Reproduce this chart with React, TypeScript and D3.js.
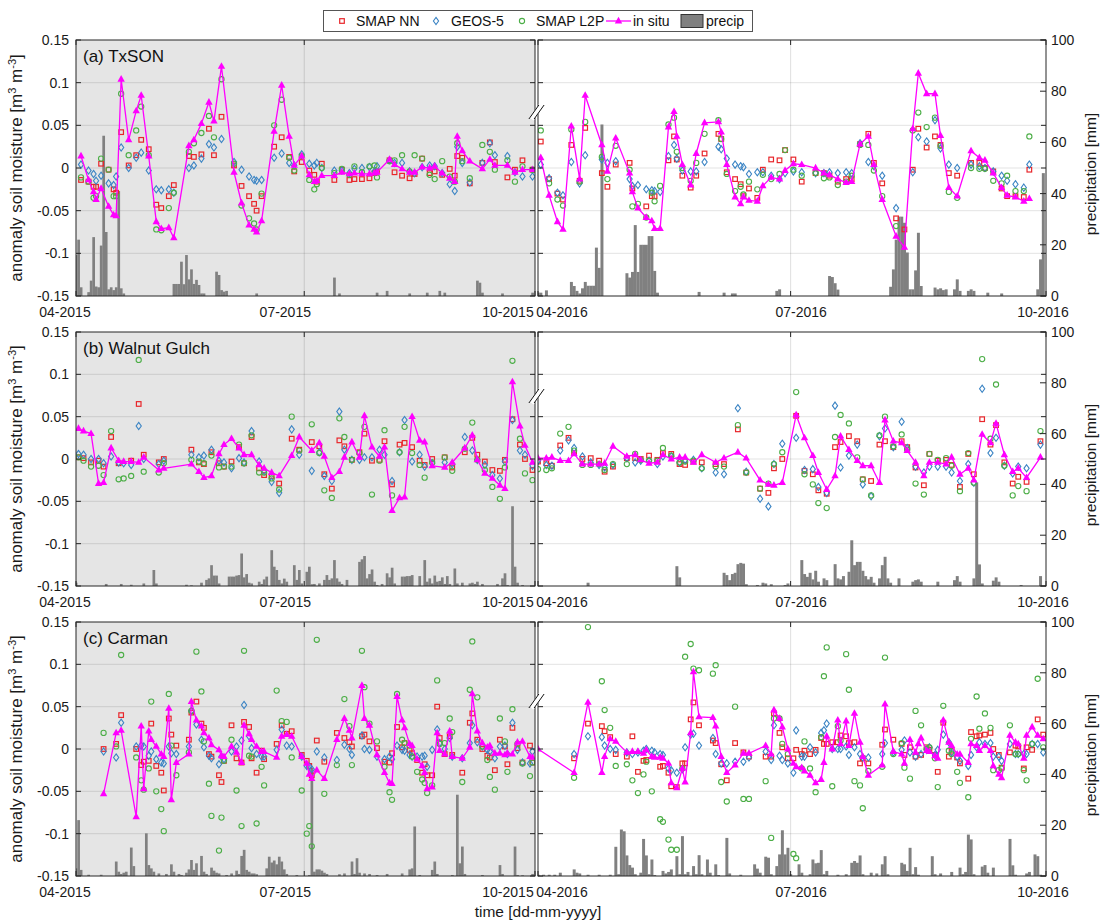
import { useEffect, useRef } from 'react';
import * as d3 from 'd3';

// rows: [day since 1 April, in situ, SMAP NN, GEOS-5, SMAP L2P]
type Obs = [number, number | null, number | null, number | null, number | null];
type Rain = [number, number];

const legendNames = ['SMAP NN', 'GEOS-5', 'SMAP L2P', 'in situ', 'precip'];
const siteLabels = ['(a) TxSON', '(b) Walnut Gulch', '(c) Carman'];
const years = [2015, 2016];
const smTicks = [-0.15, -0.1, -0.05, 0, 0.05, 0.1, 0.15];
const smTickLabels = ['-0.15', '-0.1', '-0.05', '0', '0.05', '0.1', '0.15'];
const precipTicks = [0, 20, 40, 60, 80, 100];
const monthTicks = [3, 6, 9];

const txson2015: Obs[] = [
  [2, 0.014, -0.014, 0.004, -0.011], [5, -0.014, -0.016, -0.003, -0.016], [7, -0.028, -0.022, -0.007, -0.035],
  [8, -0.037, -0.022, -0.015, -0.033], [10, -0.024, 0.005, -0.009, 0.011], [13, -0.045, -0.002, -0.018, -0.002],
  [15, -0.055, -0.025, -0.02, -0.033], [16, -0.056, -0.029, -0.01, -0.033], [18, 0.104, 0.042, 0.024, 0.087],
  [21, 0.033, 0.003, 0.0, 0.015], [24, 0.067, 0.015, 0.012, 0.044], [26, 0.085, 0.033, 0.018, 0.072],
  [29, 0.014, 0.022, -0.003, 0.015], [32, -0.063, -0.043, -0.025, -0.072], [34, -0.071, -0.047, -0.026, -0.073],
  [37, -0.07, -0.033, -0.025, -0.047], [39, -0.082, -0.02, -0.029, -0.029], [45, 0.026, 0.014, 0.0, 0.019],
  [47, 0.033, 0.013, 0.003, 0.029], [50, 0.052, 0.016, 0.011, 0.041], [53, 0.077, 0.046, 0.028, 0.061],
  [55, 0.055, 0.015, 0.024, 0.036], [58, 0.119, 0.06, 0.034, 0.104], [63, -0.005, 0.003, 0.007, 0.005],
  [66, -0.041, -0.021, -0.002, -0.044], [69, -0.067, -0.033, -0.01, -0.059], [71, -0.072, -0.042, -0.014, -0.065],
  [72, -0.075, -0.05, -0.015, -0.072], [74, -0.062, -0.033, -0.014, -0.03], [79, 0.043, 0.025, 0.012, 0.05],
  [82, 0.097, 0.036, 0.017, 0.08], [85, 0.037, 0.013, 0.006, 0.012], [87, 0.003, -0.004, 0.003, -0.003],
  [90, 0.014, 0.007, 0.016, 0.014], [93, -0.008, -0.003, 0.005, -0.014], [95, -0.016, -0.008, 0.003, -0.025],
  [96, -0.015, -0.016, 0.006, -0.019], [98, -0.009, 0.005, 0.0, 0.0], [103, -0.009, -0.014, -0.003, -0.006],
  [106, -0.005, -0.002, -0.003, -0.001], [109, -0.007, -0.014, -0.006, -0.008], [111, -0.006, -0.013, -0.001, 0.002],
  [114, -0.007, -0.013, 0.0, -0.005], [117, -0.007, -0.012, 0.001, 0.002], [119, -0.006, -0.006, -0.004, 0.003],
  [120, -0.005, -0.004, 0.002, -0.011], [125, 0.01, 0.009, 0.009, 0.008], [127, 0.004, -0.005, 0.006, 0.009],
  [130, -0.001, -0.009, 0.006, 0.015], [133, -0.005, -0.012, -0.004, -0.004], [135, -0.005, -0.007, -0.006, 0.015],
  [138, 0.001, 0.011, 0.001, 0.011], [141, 0.0, -0.006, 0.003, -0.008], [143, 0.002, -0.004, 0.002, -0.013],
  [146, -0.006, -0.008, -0.006, 0.008], [149, -0.012, -0.001, -0.019, -0.01], [151, -0.016, -0.009, -0.027, -0.016],
  [152, 0.037, 0.014, 0.025, 0.029], [154, 0.02, 0.012, 0.006, 0.008], [157, 0.008, -0.018, -0.017, -0.012],
  [162, -0.001, 0.006, 0.006, 0.027], [165, 0.01, 0.03, 0.029, 0.019], [167, 0.003, 0.007, 0.015, -0.002],
  [172, 0.003, -0.011, 0.014, 0.009], [175, -0.005, -0.002, -0.005, -0.016], [178, -0.002, 0.009, -0.01, 0.002],
  [182, -0.002, -0.002, -0.01, -0.002],
];

const txson2016: Obs[] = [
  [1, 0.012, 0.031, 0.004, 0.044], [4, -0.032, -0.013, -0.012, -0.018], [7, -0.063, -0.03, -0.029, -0.037],
  [9, -0.072, -0.037, -0.032, -0.044], [12, 0.049, 0.027, 0.007, 0.045], [15, -0.013, -0.015, -0.018, -0.016],
  [17, 0.085, 0.047, 0.015, 0.054], [23, 0.027, -0.006, 0.01, 0.013], [25, -0.004, -0.022, 0.006, -0.013],
  [28, 0.035, 0.004, 0.008, 0.026], [33, -0.006, 0.006, -0.013, -0.002], [34, -0.028, -0.024, -0.021, -0.045],
  [36, -0.047, null, -0.02, -0.042], [39, -0.058, -0.045, -0.025, -0.058], [41, -0.062, -0.033, -0.026, -0.029],
  [42, -0.071, -0.033, -0.027, -0.039], [44, -0.071, null, -0.028, -0.021], [47, 0.048, 0.009, 0.014, 0.051],
  [49, 0.066, 0.037, 0.027, 0.059], [50, 0.037, 0.01, 0.011, 0.019], [52, 0.004, -0.009, -0.003, 0.0],
  [55, -0.02, -0.023, -0.004, -0.015], [57, 0.017, -0.009, -0.004, 0.006], [60, 0.053, 0.017, 0.007, 0.04],
  [65, 0.054, 0.04, 0.025, 0.056], [66, 0.042, 0.034, 0.022, 0.034], [68, 0.004, -0.005, 0.011, -0.007],
  [71, -0.034, -0.013, 0.004, -0.027], [73, -0.042, -0.019, 0.002, -0.022], [74, -0.034, -0.033, 0.001, -0.031],
  [76, -0.038, -0.024, -0.007, -0.016], [79, -0.039, -0.035, -0.005, -0.025], [81, -0.021, -0.002, -0.005, -0.008],
  [84, -0.011, 0.01, -0.009, -0.013], [87, -0.013, 0.009, -0.013, -0.007], [89, -0.003, 0.021, -0.006, 0.021],
  [92, 0.005, 0.01, -0.004, -0.002], [95, 0.004, -0.016, -0.005, -0.009], [100, 0.0, -0.006, -0.006, -0.006],
  [103, -0.006, -0.006, -0.006, -0.012], [105, -0.008, -0.009, -0.005, -0.011], [108, -0.013, -0.016, -0.006, -0.02],
  [111, -0.017, -0.013, -0.005, -0.016], [113, -0.016, -0.013, -0.006, -0.009], [116, 0.028, 0.028, 0.029, 0.027],
  [119, 0.037, 0.04, 0.007, 0.027], [121, 0.004, 0.006, 0.002, -0.003], [124, -0.037, -0.018, -0.009, -0.033],
  [129, -0.08, -0.059, -0.047, -0.068], [132, -0.093, -0.072, null, null], [135, 0.046, -0.002, -0.005, 0.044],
  [137, 0.111, 0.046, 0.036, 0.065], [140, 0.087, 0.024, 0.031, 0.048], [143, 0.087, 0.037, 0.056, 0.059],
  [145, 0.038, 0.027, 0.023, 0.026], [148, -0.023, -0.006, 0.004, -0.028], [151, -0.033, -0.009, 0.0, -0.035],
  [156, 0.02, 0.006, 0.004, 0.0], [159, 0.012, 0.006, 0.002, -0.001], [161, 0.009, 0.0, 0.0, -0.001],
  [164, -0.006, -0.004, -0.004, -0.015], [167, -0.023, -0.024, -0.009, -0.018], [169, -0.032, -0.033, -0.015, -0.009],
  [172, -0.034, -0.033, -0.019, -0.027], [175, -0.039, -0.034, -0.023, -0.027], [177, -0.036, -0.002, 0.004, 0.037],
];

const walnut2015: Obs[] = [
  [1, 0.036, 0.002, 0.006, 0.002], [3, 0.033, 0.001, 0.005, -0.002], [6, 0.03, -0.004, 0.0, -0.009],
  [9, -0.029, -0.002, 0.0, -0.008], [11, -0.028, -0.009, -0.005, -0.019], [14, 0.013, 0.026, 0.003, 0.033],
  [17, -0.002, -0.005, -0.004, -0.024], [19, -0.003, null, -0.005, -0.023], [22, -0.003, -0.002, -0.007, -0.02],
  [25, -0.004, 0.065, 0.039, 0.117], [27, 0.002, 0.005, 0.0, -0.015], [33, -0.013, -0.004, -0.006, -0.016],
  [35, -0.011, 0.0, -0.002, -0.005], [46, -0.006, 0.011, 0.005, -0.001], [49, -0.015, -0.004, 0.002, -0.003],
  [51, -0.022, -0.006, 0.004, -0.005], [54, -0.02, 0.008, 0.011, 0.004], [57, 0.006, -0.005, -0.002, -0.01],
  [59, 0.017, -0.009, -0.004, -0.009], [62, 0.024, -0.003, -0.011, -0.009], [65, 0.013, 0.014, 0.001, 0.017],
  [67, 0.005, -0.005, -0.004, -0.005], [70, 0.005, 0.026, 0.033, 0.028], [73, -0.007, -0.011, -0.003, -0.016],
  [75, -0.011, -0.019, -0.014, -0.016], [78, -0.016, -0.02, -0.027, -0.023], [81, -0.02, -0.029, -0.04, -0.036],
  [86, 0.004, 0.024, 0.035, 0.05], [89, 0.026, 0.011, 0.005, 0.01], [94, 0.01, 0.02, -0.014, 0.041],
  [97, 0.019, 0.015, 0.008, 0.007], [99, 0.003, -0.018, -0.02, -0.037], [102, -0.022, -0.035, -0.026, -0.046],
  [105, -0.015, 0.022, 0.056, 0.048], [107, 0.002, 0.015, 0.011, 0.026], [110, 0.02, -0.001, -0.001, -0.001],
  [113, 0.002, 0.008, -0.001, 0.007], [115, 0.051, 0.03, 0.002, 0.038], [118, 0.014, -0.002, 0.002, -0.042],
  [121, 0.003, -0.001, 0.011, -0.002], [123, 0.014, 0.021, 0.005, 0.034], [126, -0.061, -0.03, -0.026, -0.043],
  [129, -0.046, 0.017, 0.008, 0.008], [131, -0.045, 0.019, 0.046, 0.038], [134, 0.05, 0.014, -0.003, 0.007],
  [137, 0.022, -0.002, 0.005, -0.007], [139, 0.02, -0.007, -0.009, -0.022], [142, -0.008, 0.0, -0.005, -0.004],
  [147, -0.01, 0.002, -0.004, 0.002], [150, -0.004, -0.01, -0.006, -0.014], [155, 0.013, 0.008, 0.026, 0.012],
  [158, 0.028, 0.025, 0.01, 0.043], [160, -0.001, 0.005, -0.001, -0.001], [163, -0.017, -0.003, -0.007, -0.013],
  [166, -0.023, -0.013, -0.019, -0.033], [169, -0.031, -0.014, -0.023, -0.047], [171, -0.035, -0.001, -0.003, -0.01],
  [174, 0.091, 0.047, 0.046, 0.116], [177, 0.039, 0.017, 0.01, 0.024], [179, 0.016, 0.0, 0.005, -0.017],
  [182, -0.004, -0.013, -0.008, -0.025],
];

const walnut2016: Obs[] = [
  [0, 0.001, -0.003, -0.002, -0.012], [3, 0.001, -0.005, -0.007, -0.013], [5, 0.002, -0.008, -0.008, -0.011],
  [8, -0.002, 0.016, 0.01, 0.03], [11, -0.002, 0.025, 0.022, 0.038], [13, 0.006, 0.007, 0.013, 0.01],
  [16, -0.006, 0.0, 0.003, -0.007], [19, -0.006, 0.001, -0.004, -0.007], [22, -0.006, -0.002, -0.007, -0.006],
  [24, -0.005, -0.015, -0.01, -0.013], [27, 0.015, -0.009, -0.007, -0.006], [32, 0.003, 0.001, 0.001, -0.006],
  [35, 0.005, 0.001, -0.004, 0.006], [37, -0.001, 0.0, -0.002, -0.001], [40, -0.005, 0.004, -0.002, -0.002],
  [43, -0.004, -0.001, -0.006, -0.002], [45, 0.005, 0.007, 0.003, 0.013], [48, 0.0, 0.006, 0.003, 0.004],
  [51, 0.002, -0.006, -0.004, -0.004], [53, 0.002, -0.007, -0.001, -0.003], [56, -0.004, -0.003, -0.001, -0.002],
  [59, 0.005, -0.004, -0.011, -0.011], [64, -0.004, -0.006, -0.016, -0.009], [67, 0.001, -0.006, -0.018, -0.009],
  [72, 0.008, 0.035, 0.06, 0.04], [75, 0.001, -0.016, -0.015, -0.016], [80, -0.025, -0.035, -0.047, -0.035],
  [83, -0.03, -0.04, -0.056, -0.029], [85, -0.031, -0.011, -0.006, -0.006], [88, -0.028, 0.0, 0.018, 0.008],
  [93, 0.052, 0.051, 0.025, 0.079], [96, 0.025, -0.014, -0.013, -0.018], [99, 0.004, -0.018, -0.012, -0.03],
  [101, -0.016, -0.037, -0.033, -0.052], [104, -0.036, -0.041, -0.04, -0.058], [107, -0.02, 0.014, 0.063, 0.026],
  [109, 0.027, 0.02, -0.01, 0.052], [112, 0.011, 0.027, 0.004, 0.042], [115, -0.002, 0.021, 0.017, 0.002],
  [117, -0.008, -0.024, -0.03, -0.024], [120, -0.008, -0.026, -0.044, -0.043], [123, -0.028, 0.017, 0.027, 0.028],
  [125, 0.046, 0.021, 0.036, 0.05], [128, 0.021, 0.014, 0.014, 0.015], [131, 0.019, 0.021, 0.044, 0.029],
  [133, 0.01, 0.014, 0.013, 0.011], [136, -0.004, -0.01, -0.009, -0.029], [139, -0.02, -0.031, -0.016, -0.042],
  [141, -0.004, 0.006, -0.009, 0.006], [144, -0.004, -0.002, -0.009, -0.001], [147, -0.006, -0.001, -0.009, 0.001],
  [149, 0.002, -0.007, -0.016, -0.008], [152, -0.018, -0.033, -0.026, -0.038], [155, -0.011, 0.006, -0.006, 0.007],
  [157, -0.025, -0.018, -0.028, -0.028], [160, 0.029, 0.047, 0.083, 0.118], [163, 0.019, 0.017, 0.007, 0.024],
  [165, 0.042, 0.04, 0.025, 0.088], [168, 0.005, -0.004, -0.008, -0.008], [171, -0.015, -0.029, -0.017, -0.043],
  [173, -0.011, -0.021, -0.009, -0.032], [176, -0.022, -0.027, -0.011, -0.038], [181, 0.002, 0.021, 0.017, 0.033],
];

const carman2015: Obs[] = [
  [11, -0.053, 0.0, -0.003, 0.019], [16, 0.019, 0.006, -0.01, 0.003], [18, 0.022, 0.04, 0.031, 0.111],
  [24, -0.08, 0.0, 0.003, -0.01], [26, 0.027, -0.019, 0.004, -0.037], [27, -0.047, -0.015, 0.003, -0.048],
  [29, 0.021, -0.014, -0.008, -0.023], [30, 0.011, 0.03, -0.003, 0.056], [32, 0.003, -0.02, -0.012, -0.05],
  [34, -0.006, -0.028, -0.016, -0.071], [35, -0.009, -0.049, -0.017, -0.097], [37, 0.048, 0.036, 0.003, 0.065],
  [38, -0.06, 0.017, -0.005, 0.004], [40, -0.016, 0.004, -0.006, -0.031], [45, -0.006, 0.011, 0.003, -0.004],
  [46, 0.056, 0.043, 0.045, 0.045], [48, 0.034, 0.056, 0.029, 0.115], [50, 0.027, 0.03, 0.011, 0.068],
  [51, 0.019, 0.025, 0.002, 0.009], [53, 0.013, -0.006, -0.008, -0.041], [54, 0.005, -0.009, -0.011, -0.079],
  [57, -0.001, -0.031, -0.018, -0.12], [58, -0.008, -0.039, -0.009, -0.081], [59, -0.009, -0.014, -0.012, -0.014],
  [62, 0.003, 0.028, -0.003, 0.011], [64, -0.004, -0.011, 0.003, -0.049], [66, -0.016, -0.016, 0.01, -0.091],
  [67, 0.028, 0.032, 0.052, 0.116], [69, 0.018, 0.026, 0.015, -0.008], [70, 0.011, -0.011, 0.001, -0.009],
  [72, 0.003, -0.028, -0.006, -0.088], [74, -0.003, -0.002, -0.009, -0.021], [75, -0.003, -0.012, -0.009, -0.043],
  [80, -0.01, 0.006, -0.001, 0.069], [82, 0.015, 0.028, 0.023, 0.033], [84, 0.017, 0.018, 0.004, 0.032],
  [86, 0.015, 0.021, 0.003, -0.01], [90, -0.009, -0.007, -0.009, -0.049], [92, -0.017, -0.014, -0.02, -0.1],
  [93, -0.03, -0.02, -0.021, -0.091], [94, -0.035, -0.031, -0.024, -0.115], [96, -0.025, 0.01, -0.003, 0.129],
  [99, -0.035, -0.015, -0.01, -0.053], [104, 0.011, 0.019, -0.013, -0.019], [107, 0.036, 0.013, 0.005, 0.059],
  [109, 0.022, 0.008, 0.0, 0.027], [110, 0.013, 0.003, -0.007, -0.019], [114, 0.075, 0.015, 0.016, 0.116],
  [115, 0.036, 0.017, 0.0, 0.073], [117, 0.028, 0.009, -0.001, 0.03], [120, -0.007, 0.001, -0.009, 0.009],
  [123, -0.028, -0.015, -0.012, -0.021], [125, -0.04, -0.016, -0.009, -0.051], [126, -0.041, -0.005, -0.012, -0.06],
  [128, 0.062, 0.026, 0.004, 0.065], [130, 0.034, 0.002, -0.001, 0.011], [131, 0.025, 0.007, -0.002, 0.007],
  [133, 0.006, -0.001, -0.007, 0.004], [134, 0.004, -0.005, -0.009, -0.009], [136, -0.012, -0.013, -0.009, -0.027],
  [138, -0.02, -0.028, -0.009, -0.036], [139, -0.028, -0.018, -0.008, -0.04], [140, -0.047, -0.031, -0.021, -0.052],
  [142, -0.045, -0.031, -0.001, -0.043], [144, 0.019, 0.05, 0.023, 0.081], [145, -0.002, 0.013, 0.007, 0.006],
  [147, -0.006, -0.006, 0.0, 0.007], [149, 0.021, 0.015, 0.013, 0.036], [150, -0.009, -0.007, -0.009, 0.02],
  [154, -0.011, -0.028, -0.011, -0.039], [157, 0.002, 0.031, 0.007, 0.07], [158, 0.065, 0.042, 0.028, 0.127],
  [160, 0.021, 0.011, 0.008, 0.061], [162, 0.007, 0.0, 0.003, 0.003], [164, 0.002, -0.008, -0.001, -0.013],
  [165, 0.004, -0.01, -0.003, -0.033], [167, -0.005, -0.025, -0.011, -0.048], [169, -0.005, 0.011, 0.003, 0.036],
  [171, -0.007, 0.003, 0.004, 0.009], [172, -0.005, -0.018, -0.006, -0.027], [174, -0.006, 0.025, 0.031, 0.047],
  [176, 0.008, 0.001, -0.001, 0.006], [178, 0.009, -0.016, -0.016, -0.017], [181, -0.009, 0.004, -0.017, -0.032],
  [182, -0.01, -0.016, -0.003, -0.016],
];

const carman2016: Obs[] = [
  [0, 0.0, null, null, null], [13, -0.028, -0.011, -0.006, -0.034], [18, 0.055, 0.03, 0.015, 0.144],
  [23, -0.028, 0.027, 0.014, 0.08], [24, -0.009, 0.021, 0.004, 0.046], [26, 0.012, 0.014, 0.0, 0.025],
  [28, 0.009, -0.006, -0.001, -0.02], [32, -0.004, -0.009, -0.004, -0.018], [34, -0.003, 0.015, -0.006, -0.037],
  [36, -0.003, -0.027, -0.004, -0.052], [38, -0.005, -0.014, -0.002, -0.03], [39, -0.001, -0.013, 0.0, -0.015],
  [41, -0.009, null, -0.002, -0.05], [42, -0.01, null, -0.004, null], [44, -0.01, -0.021, -0.006, -0.083],
  [45, -0.011, -0.02, -0.007, -0.086], [47, -0.017, -0.028, -0.023, -0.107], [48, -0.04, -0.044, -0.025, -0.119],
  [50, -0.046, -0.045, -0.028, -0.119], [52, -0.023, -0.017, -0.024, -0.023], [53, -0.039, -0.017, 0.002, 0.109],
  [55, 0.019, 0.035, 0.017, 0.124], [56, 0.091, 0.055, 0.018, 0.095], [58, 0.038, 0.028, 0.004, 0.093],
  [63, 0.037, 0.01, 0.013, 0.089], [64, 0.027, 0.007, -0.006, 0.099], [66, -0.009, -0.018, -0.017, -0.039],
  [68, -0.028, -0.037, -0.017, -0.062], [71, -0.019, 0.007, -0.015, 0.05], [74, -0.005, -0.004, -0.015, -0.059],
  [76, -0.005, -0.009, -0.01, -0.059], [82, 0.004, -0.009, -0.003, -0.038], [84, -0.006, -0.009, -0.013, -0.105],
  [85, 0.046, 0.042, 0.028, 0.036], [87, 0.036, 0.019, -0.008, 0.036], [88, 0.026, 0.002, -0.013, 0.006],
  [90, 0.0, -0.011, -0.017, -0.006], [92, -0.017, -0.011, -0.028, -0.124], [93, -0.021, -0.001, 0.022, -0.129],
  [95, -0.022, -0.006, -0.009, -0.023], [96, -0.026, -0.002, -0.009, 0.009], [98, -0.031, -0.006, 0.002, -0.023],
  [100, -0.04, -0.001, -0.004, -0.051], [102, -0.036, 0.013, 0.019, 0.014], [103, -0.016, 0.006, 0.022, 0.086],
  [104, 0.015, 0.006, 0.03, 0.12], [106, 0.0, 0.008, 0.0, -0.044], [108, 0.034, 0.008, 0.0, 0.027],
  [109, 0.006, 0.016, 0.0, 0.01], [111, 0.033, 0.015, 0.003, 0.112], [112, 0.004, 0.007, -0.007, 0.07],
  [114, 0.042, 0.008, 0.002, -0.038], [116, 0.008, -0.017, -0.006, -0.043], [117, -0.009, -0.011, -0.01, -0.07],
  [119, -0.031, -0.017, -0.01, -0.026], [124, -0.019, 0.005, -0.006, -0.021], [125, 0.053, 0.023, 0.007, 0.108],
  [128, -0.003, 0.011, -0.004, -0.006], [131, -0.006, 0.006, -0.001, 0.007], [132, -0.017, -0.007, 0.01, -0.022],
  [134, 0.011, 0.002, -0.004, -0.035], [136, -0.004, -0.009, -0.009, 0.045], [137, 0.006, null, null, null],
  [138, 0.013, -0.007, -0.006, 0.028], [140, -0.002, 0.002, -0.001, 0.0], [141, -0.003, -0.001, 0.002, 0.002],
  [143, -0.008, -0.007, -0.007, -0.011], [144, -0.011, -0.027, -0.001, -0.045], [146, 0.034, 0.031, 0.017, 0.051],
  [148, 0.008, -0.009, 0.008, -0.002], [149, 0.004, -0.002, -0.004, -0.006], [151, -0.006, -0.01, -0.009, -0.027],
  [152, -0.006, -0.017, -0.014, -0.04], [155, -0.016, -0.035, -0.02, -0.057], [156, 0.006, 0.02, -0.007, 0.012],
  [158, 0.004, 0.015, 0.002, 0.062], [159, -0.002, 0.016, 0.008, 0.024], [161, 0.004, 0.017, 0.006, 0.042],
  [163, -0.002, 0.019, 0.007, 0.025], [164, -0.02, 0.0, -0.009, -0.025], [166, -0.03, -0.007, -0.009, -0.025],
  [167, -0.034, -0.022, -0.014, -0.023], [170, 0.016, -0.004, 0.006, 0.028], [172, 0.008, 0.004, -0.006, -0.006],
  [173, 0.006, 0.003, -0.006, -0.006], [175, -0.011, -0.023, -0.006, -0.025], [176, 0.016, 0.002, -0.006, -0.037],
  [178, 0.026, -0.001, 0.006, 0.006], [180, 0.016, 0.035, 0.006, 0.083], [182, 0.012, 0.017, -0.004, 0.002],
];

// daily precipitation [day since 1 April, mm]
const txsonRain2015: Rain[] = [
  [0, 16], [1, 22], [2, 3.4], [5, 1.5], [6, 6], [7, 23], [8, 3.7], [9, 3.4], [10, 19.7], [11, 62.6], [12, 25],
  [13, 2.6], [14, 3.4], [15, 2.3], [16, 3.4], [17, 41], [18, 3], [19, 1], [39, 4.7], [40, 4.7], [41, 4.7],
  [42, 13.4], [43, 4.6], [44, 16], [45, 6.5], [46, 10.4], [47, 4.7], [48, 6.3], [49, 4.3], [50, 1], [51, 1],
  [56, 9.5], [57, 8.2], [58, 2.3], [59, 1.7], [60, 2], [72, 1], [103, 7.2], [105, 1], [120, 1.3], [124, 2],
  [133, 1], [140, 1.3], [145, 2], [147, 1.3], [160, 6], [161, 5.2], [162, 1.3], [170, 1], [182, 1.3],
];
const txsonRain2016: Rain[] = [
  [0, 1.3], [1, 1.3], [3, 2.2], [12, 5.5], [13, 3.9], [14, 2], [15, 1], [16, 3], [17, 5.5], [18, 4], [19, 4],
  [20, 4], [21, 18.9], [22, 11], [23, 67], [32, 8.9], [33, 7.2], [34, 9.4], [35, 27.7], [36, 9.4], [37, 20],
  [38, 20], [39, 20], [40, 23.4], [41, 23.4], [42, 9.8], [43, 1.3], [58, 1.6], [67, 1.3], [70, 1], [71, 1],
  [86, 2], [87, 2.6], [105, 7.8], [106, 7.4], [107, 5], [108, 2.5], [127, 3.6], [128, 10.4], [129, 22],
  [130, 31], [131, 31], [132, 28.6], [133, 17], [134, 2.6], [135, 2.6], [136, 10], [137, 24.7], [138, 3.9],
  [143, 3.3], [144, 2.6], [145, 3], [146, 2.3], [147, 2.6], [150, 2.6], [151, 6.5], [152, 2], [155, 2],
  [156, 2.6], [157, 2], [162, 1.3], [167, 1], [180, 2.6], [181, 14.3], [182, 48],
];
const walnutRain2015: Rain[] = [
  [0, 1.3], [12, 0.8], [18, 0.8], [22, 0.5], [27, 1], [31, 6.3], [32, 1], [44, 0.5], [46, 0.3], [50, 1.3],
  [52, 2.4], [53, 3], [54, 8.2], [55, 4.1], [56, 4.1], [57, 1], [61, 3.7], [62, 3.7], [63, 3.7], [64, 4.1],
  [65, 4.3], [66, 12.8], [67, 3.4], [68, 4.7], [69, 1.3], [70, 1], [73, 1.7], [74, 0.8], [75, 2.6], [76, 3.7],
  [78, 14.1], [79, 7.6], [80, 6.3], [81, 2.4], [82, 1], [83, 2.9], [84, 1.7], [87, 8.2], [88, 2.4], [89, 6.3],
  [90, 1], [92, 5.6], [93, 7.6], [94, 0.7], [95, 0.8], [97, 1], [99, 2.4], [100, 4.3], [101, 2.4], [102, 3],
  [103, 10.2], [104, 3], [105, 1.7], [106, 0.8], [108, 2.4], [113, 9.5], [114, 10.5], [115, 11.8], [116, 3],
  [117, 4.7], [118, 6.5], [119, 1.7], [120, 0.4], [122, 0.8], [124, 5], [125, 3.4], [126, 7.2], [127, 1],
  [130, 3.7], [131, 3.7], [132, 3.9], [133, 3.9], [134, 4.3], [137, 3.9], [139, 10.2], [140, 1.7], [141, 3],
  [142, 1], [143, 4.1], [144, 1.7], [145, 2], [146, 3.4], [147, 0.8], [148, 3.9], [149, 0.8], [151, 6.9],
  [152, 1], [154, 1.3], [157, 1], [158, 1.3], [159, 0.8], [160, 1.7], [162, 0.8], [168, 0.8], [170, 3], [171, 5],
  [172, 0.4], [174, 31.4], [175, 7.6], [176, 1.3], [178, 0.4],
];
const walnutRain2016: Rain[] = [
  [18, 1.3], [50, 7.8], [51, 3.4], [67, 5.2], [68, 4.3], [69, 2.3], [70, 4.7], [71, 5.2], [72, 8.6], [73, 9.1],
  [74, 8.8], [75, 0.7], [79, 0.4], [81, 1.3], [82, 1], [84, 0.7], [89, 0.4], [90, 1], [95, 10.2], [96, 4.7],
  [97, 3.6], [98, 5.2], [99, 2.6], [100, 6], [101, 1.7], [103, 3], [104, 2.3], [107, 8.6], [108, 3], [109, 2.6],
  [110, 3.9], [112, 5.6], [113, 18], [114, 8.2], [115, 9.5], [116, 9.5], [117, 6], [118, 3.9], [119, 2.6],
  [120, 3.6], [121, 1.3], [123, 3], [124, 8.2], [125, 11.5], [126, 3], [127, 1.3], [130, 3], [135, 1.7],
  [136, 2.3], [137, 2.6], [138, 1.7], [144, 1.7], [150, 2.3], [151, 3.9], [152, 1.7], [157, 3], [158, 40.8],
  [159, 8.5], [160, 1], [164, 2.1], [165, 3.4], [166, 1.7], [174, 0.4], [181, 3.9],
];
const carmanRain2015: Rain[] = [
  [0, 3], [1, 22], [2, 2.4], [5, 0.5], [10, 0.5], [16, 5.7], [17, 1.7], [18, 0.8], [19, 1.3], [20, 1.7],
  [22, 11.2], [23, 3.9], [28, 16.8], [29, 4.3], [30, 3], [31, 1.7], [33, 1], [36, 0.8], [38, 4.6], [39, 1.7],
  [41, 0.8], [42, 0.4], [44, 1.3], [45, 2.6], [46, 6.3], [47, 2.4], [48, 5], [50, 7.9], [51, 1.7], [52, 0.8],
  [54, 3.3], [55, 2.1], [56, 1.3], [57, 1], [60, 0.4], [62, 1], [64, 2.1], [65, 0.8], [66, 7.9], [67, 10.3],
  [68, 2.4], [69, 1.7], [70, 1], [71, 1], [72, 0.7], [76, 3], [77, 7.6], [78, 5.3], [79, 6.1], [80, 4.6],
  [81, 7.6], [82, 5.7], [83, 2.6], [84, 0.8], [88, 0.4], [93, 0.4], [94, 42.5], [95, 1.7], [96, 2.6], [97, 2.6],
  [98, 2.1], [99, 1.3], [100, 0.8], [105, 0.7], [107, 1], [110, 5.7], [111, 0.8], [112, 7], [113, 1.3],
  [115, 1], [117, 0.8], [120, 0.4], [124, 0.8], [130, 1], [133, 2.6], [134, 3], [135, 19.5], [137, 0.4],
  [142, 2.4], [143, 5.7], [144, 0.8], [150, 0.4], [152, 32], [153, 5], [154, 11.6], [155, 0.8], [162, 0.4],
  [169, 4.3], [170, 0.8], [175, 11.6], [176, 0.4], [178, 0.3], [182, 0.8],
];
const carmanRain2016: Rain[] = [
  [0, 0.5], [2, 0.5], [4, 0.5], [6, 0.5], [8, 1.3], [13, 2.6], [14, 1.3], [15, 1], [18, 0.5], [22, 0.5],
  [26, 0.5], [28, 11.5], [29, 0.7], [30, 18.3], [31, 17.6], [32, 8.1], [33, 4.3], [34, 3.3], [35, 0.7],
  [37, 1.3], [38, 14.6], [39, 8.1], [40, 0.7], [41, 6.5], [42, 0.4], [45, 2], [46, 1], [47, 1.6], [48, 2.6],
  [50, 7.8], [51, 0.7], [52, 15.7], [53, 0.7], [54, 1.6], [56, 3.9], [57, 0.7], [58, 8.2], [59, 0.7], [61, 6.5],
  [62, 1.3], [64, 4.6], [65, 0.4], [68, 15], [69, 1], [73, 0.5], [78, 4.6], [79, 2.9], [80, 1.3], [82, 7.6],
  [83, 7.2], [84, 0.7], [86, 3.9], [87, 8.5], [88, 18], [89, 8.5], [90, 11.1], [91, 0.7], [94, 4.6], [95, 1.3],
  [98, 0.7], [99, 6.5], [100, 5], [101, 5.2], [102, 10.2], [103, 0.7], [104, 2], [108, 0.5], [111, 0.7],
  [113, 5.2], [114, 5.9], [115, 5.2], [116, 8.1], [117, 0.7], [120, 1.3], [122, 1], [124, 4.6], [125, 7.8],
  [126, 0.7], [131, 5.2], [132, 4.6], [133, 2], [134, 11.1], [135, 0.7], [136, 3.5], [137, 0.5], [142, 7.8],
  [143, 0.7], [145, 1], [149, 1.6], [152, 3.3], [153, 0.7], [154, 1.6], [155, 16.3], [156, 14.4], [157, 0.7],
  [160, 3.7], [161, 4.3], [162, 1.3], [164, 3.3], [170, 14.6], [171, 4.2], [172, 0.5], [176, 1], [177, 1.6],
  [179, 8.5], [180, 7.8], [181, 0.5],
];

const obsBySite = [[txson2015, txson2016], [walnut2015, walnut2016], [carman2015, carman2016]];
const rainBySite = [[txsonRain2015, txsonRain2016], [walnutRain2015, walnutRain2016], [carmanRain2015, carmanRain2016]];

const C = { nn: '#e8262b', geos: '#3b84c4', l2p: '#4cae47', insitu: '#ff00ff', rain: '#808080', frame: '#262626' };
const FONT = '"Liberation Sans", Arial, Helvetica, sans-serif';

// layout
const panelTop = [40, 332, 622];
const panelBottom = [296, 586, 876];
const halfX = [[76, 535], [538, 1046]];
const labelX = [[65, 508], [562, 1043]];
const breakY = [112, 396, 701];

export default function App() {
  const svgRef = useRef<SVGSVGElement>(null);

  useEffect(() => {
    const svg = d3.select(svgRef.current);
    svg.selectAll('*').remove();
    svg.style('font-family', FONT);
    const defs = svg.append('defs');
    const fmt = d3.timeFormat('%m-%Y');
    const triangle = 'M0,-4.2L3.7,2.4L-3.7,2.4Z';
    const diamond = 'M0,-3.6L2.6,0L0,3.6L-2.6,0Z';

    siteLabels.forEach((site, p) => {
      const top = panelTop[p], bottom = panelBottom[p];
      const y = d3.scaleLinear().domain([-0.15, 0.15]).range([bottom, top]);
      const yp = d3.scaleLinear().domain([0, 100]).range([bottom, top]);

      years.forEach((yr, h) => {
        const start = new Date(yr, 3, 1), end = new Date(yr, 9, 1);
        const x = d3.scaleTime().domain([start, end]).range(halfX[h]);
        const xl = d3.scaleTime().domain([start, end]).range(labelX[h]);
        const date = (d: number) => new Date(yr, 3, 1 + d);
        const [x0, x1] = halfX[h];
        const dayW = x(date(1)) - x(date(0));
        const clipId = `clip-${p}-${h}`;
        defs.append('clipPath').attr('id', clipId)
          .append('rect').attr('x', x0).attr('y', top).attr('width', x1 - x0).attr('height', bottom - top);

        const g = svg.append('g');
        g.append('rect').attr('x', x0).attr('y', top).attr('width', x1 - x0).attr('height', bottom - top)
          .attr('fill', h === 0 ? '#e5e5e5' : '#ffffff');

        // grid
        g.selectAll('.hg').data(smTicks.slice(1, -1)).enter().append('line')
          .attr('x1', x0).attr('x2', x1).attr('y1', d => y(d)).attr('y2', d => y(d))
          .attr('stroke', '#262626').attr('stroke-opacity', 0.13);
        g.append('line').attr('x1', x(new Date(yr, 6, 1))).attr('x2', x(new Date(yr, 6, 1)))
          .attr('y1', top).attr('y2', bottom).attr('stroke', '#262626').attr('stroke-opacity', 0.15);

        const inner = g.append('g').attr('clip-path', `url(#${clipId})`);

        // precipitation bars
        inner.selectAll('.bar').data(rainBySite[p][h]).enter().append('rect')
          .attr('x', d => x(date(d[0])) - dayW / 2).attr('width', dayW + 0.2)
          .attr('y', d => yp(d[1])).attr('height', d => bottom - yp(d[1]))
          .attr('fill', C.rain);

        const obs = obsBySite[p][h];
        const pts = (k: number) => obs.filter(r => r[k] != null);

        inner.selectAll('.nn').data(pts(2)).enter().append('rect')
          .attr('x', d => x(date(d[0])) - 2.3).attr('y', d => y(d[2] as number) - 2.3)
          .attr('width', 4.6).attr('height', 4.6)
          .attr('fill', 'none').attr('stroke', C.nn).attr('stroke-width', 1.2);

        inner.selectAll('.geos').data(pts(3)).enter().append('path')
          .attr('d', diamond)
          .attr('transform', d => `translate(${x(date(d[0]))},${y(d[3] as number)})`)
          .attr('fill', 'none').attr('stroke', C.geos).attr('stroke-width', 1.1);

        inner.selectAll('.l2p').data(pts(4)).enter().append('circle')
          .attr('cx', d => x(date(d[0]))).attr('cy', d => y(d[4] as number)).attr('r', 2.6)
          .attr('fill', 'none').attr('stroke', C.l2p).attr('stroke-width', 1.1);

        const situ = pts(1);
        const line = d3.line<Obs>().x(d => x(date(d[0]))).y(d => y(d[1] as number));
        inner.append('path').datum(situ).attr('d', line)
          .attr('fill', 'none').attr('stroke', C.insitu).attr('stroke-width', 1.3);
        inner.selectAll('.tri').data(situ).enter().append('path')
          .attr('d', triangle)
          .attr('transform', d => `translate(${x(date(d[0]))},${y(d[1] as number)})`)
          .attr('fill', C.insitu);

        // ticks
        const tk = g.append('g').attr('stroke', C.frame).attr('stroke-width', 1);
        smTicks.forEach(t => {
          tk.append('line').attr('x1', x0).attr('x2', x0 + 5).attr('y1', y(t)).attr('y2', y(t));
          tk.append('line').attr('x1', x1).attr('x2', x1 - 5).attr('y1', y(t)).attr('y2', y(t));
        });
        monthTicks.forEach(m => {
          const xm = x(new Date(yr, m, 1));
          tk.append('line').attr('x1', xm).attr('x2', xm).attr('y1', top).attr('y2', top + 5);
          tk.append('line').attr('x1', xm).attr('x2', xm).attr('y1', bottom).attr('y2', bottom - 5);
        });
        if (h === 1) {
          precipTicks.forEach(t => {
            tk.append('line').attr('x1', x1).attr('x2', x1 - 6).attr('y1', yp(t)).attr('y2', yp(t));
          });
        }

        g.append('rect').attr('x', x0).attr('y', top).attr('width', x1 - x0).attr('height', bottom - top)
          .attr('fill', 'none').attr('stroke', C.frame).attr('stroke-width', 1);

        // x labels
        g.selectAll('.xl').data(monthTicks).enter().append('text')
          .attr('x', m => xl(new Date(yr, m, 1))).attr('y', bottom + 21)
          .attr('text-anchor', 'middle').attr('font-size', 14).attr('fill', '#1a1a1a')
          .text(m => fmt(new Date(yr, m, 1)));
      });

      // left y axis labels
      svg.append('g').selectAll('text').data(smTicks).enter().append('text')
        .attr('x', 69).attr('y', d => y(d)).attr('dy', '0.35em')
        .attr('text-anchor', 'end').attr('font-size', 14).attr('fill', '#1a1a1a')
        .text((_, i) => smTickLabels[i]);

      // right precipitation axis labels
      svg.append('g').selectAll('text').data(precipTicks).enter().append('text')
        .attr('x', 1051).attr('y', d => yp(d)).attr('dy', '0.35em')
        .attr('font-size', 14).attr('fill', '#1a1a1a')
        .text(d => String(d));

      const mid = (top + bottom) / 2;
      const yl = svg.append('text').attr('transform', `translate(22,${mid}) rotate(-90)`)
        .attr('text-anchor', 'middle').attr('font-size', 17).attr('fill', '#1a1a1a');
      yl.append('tspan').text('anomaly soil moisture [m');
      yl.append('tspan').attr('font-size', 11).attr('dy', -6).text('3');
      yl.append('tspan').attr('dy', 6).text(' m');
      yl.append('tspan').attr('font-size', 11).attr('dy', -6).text('-3');
      yl.append('tspan').attr('dy', 6).text(']');

      svg.append('text').attr('transform', `translate(1096,${mid + 6}) rotate(-90)`)
        .attr('text-anchor', 'middle').attr('font-size', 15.5).attr('fill', '#1a1a1a')
        .text('precipitation [mm]');

      svg.append('text').attr('x', 83).attr('y', top + 22).attr('font-size', 17).attr('fill', '#111')
        .text(site);

      // axis break mark
      const bx = 536.5, by = breakY[p];
      const bk = svg.append('g');
      bk.append('line').attr('x1', bx - 5).attr('y1', by + 7).attr('x2', bx + 5).attr('y2', by - 7)
        .attr('stroke', '#ffffff').attr('stroke-width', 5);
      [-2.6, 2.6].forEach(o => {
        bk.append('line').attr('x1', bx - 5 + o).attr('y1', by + 7).attr('x2', bx + 5 + o).attr('y2', by - 7)
          .attr('stroke', '#111').attr('stroke-width', 1);
      });
    });

    svg.append('text').attr('x', 538).attr('y', 917).attr('text-anchor', 'middle')
      .attr('font-size', 15.5).attr('fill', '#1a1a1a').text('time [dd-mm-yyyy]');

    // legend
    const lg = svg.append('g');
    const ly = 21;
    lg.append('rect').attr('x', 323.5).attr('y', 10.5).attr('width', 429).attr('height', 21)
      .attr('fill', '#fff').attr('stroke', '#555').attr('stroke-width', 1);
    lg.append('rect').attr('x', 339.7).attr('y', ly - 2.3).attr('width', 4.6).attr('height', 4.6)
      .attr('fill', 'none').attr('stroke', C.nn).attr('stroke-width', 1.2);
    lg.append('path').attr('d', diamond).attr('transform', `translate(436,${ly})`)
      .attr('fill', 'none').attr('stroke', C.geos).attr('stroke-width', 1.1);
    lg.append('circle').attr('cx', 522).attr('cy', ly).attr('r', 2.6)
      .attr('fill', 'none').attr('stroke', C.l2p).attr('stroke-width', 1.1);
    lg.append('line').attr('x1', 606).attr('x2', 631).attr('y1', ly).attr('y2', ly)
      .attr('stroke', C.insitu).attr('stroke-width', 1.3);
    lg.append('path').attr('d', triangle).attr('transform', `translate(618.5,${ly})`).attr('fill', C.insitu);
    lg.append('rect').attr('x', 681).attr('y', 14.5).attr('width', 22).attr('height', 13)
      .attr('fill', C.rain).attr('stroke', '#333').attr('stroke-width', 1);
    const lx = [356, 451, 536, 633, 706];
    legendNames.forEach((n, i) => {
      lg.append('text').attr('x', lx[i]).attr('y', ly).attr('dy', '0.35em')
        .attr('font-size', 14).attr('fill', '#111').text(n);
    });
  }, []);

  return (
    <svg ref={svgRef} width={1110} height={922}
      style={{ position: 'absolute', left: 0, top: 0, background: '#fff' }} />
  );
}
